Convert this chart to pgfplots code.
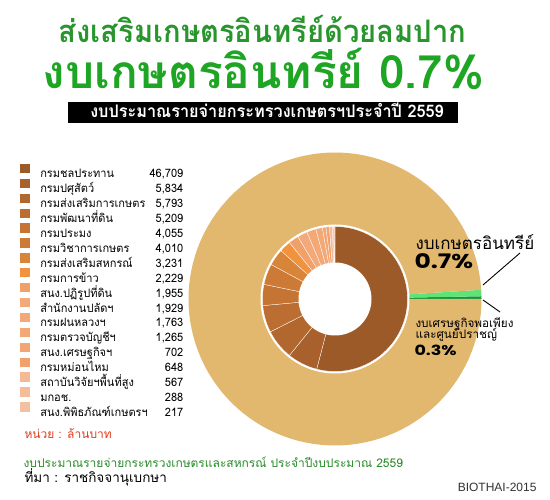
\documentclass[border=0pt]{standalone}
\usepackage{pgfplots}
\pgfplotsset{compat=1.18}
\usepackage{pgfplotstable}
\usepackage{fontspec}
\setmainfont[Script=Thai]{Loma}
\newfontfamily\thaicond[Script=Thai, FakeStretch=0.94]{Loma}
\newfontfamily\thaileg[Script=Thai, FakeStretch=0.95]{Loma}
\newfontfamily\latinf{Liberation Sans}
\newfontfamily\popw[FakeStretch=1.25]{Poppins}
\definecolor{tgreen1}{RGB}{40,150,45}
\definecolor{tgreen2}{RGB}{30,165,35}
\definecolor{botgreen}{RGB}{40,140,40}
\definecolor{unitred}{RGB}{225,62,30}
\definecolor{c0}{RGB}{155,90,40}
\definecolor{c1}{RGB}{168,97,44}
\definecolor{c2}{RGB}{178,103,46}
\definecolor{c3}{RGB}{188,110,50}
\definecolor{c4}{RGB}{197,116,52}
\definecolor{c5}{RGB}{205,122,54}
\definecolor{c6}{RGB}{216,133,58}
\definecolor{c7}{RGB}{240,146,62}
\definecolor{c8}{RGB}{242,160,105}
\definecolor{c9}{RGB}{243,170,122}
\definecolor{c10}{RGB}{243,168,118}
\definecolor{c11}{RGB}{243,168,118}
\definecolor{c12}{RGB}{243,166,115}
\definecolor{c13}{RGB}{242,160,108}
\definecolor{c14}{RGB}{245,185,150}
\definecolor{c15}{RGB}{245,188,155}
\definecolor{c16}{RGB}{245,192,160}
\definecolor{o0}{RGB}{22,150,58}
\definecolor{o1}{RGB}{92,228,120}
\definecolor{o2}{RGB}{226,183,110}

% inner ring: budget by department (million baht)
\pgfplotstableread[col sep=comma]{
name,value
กรมชลประทาน,46709
กรมปศุสัตว์,5834
กรมส่งเสริมการเกษตร,5793
กรมพัฒนาที่ดิน,5209
กรมประมง,4055
กรมวิชาการเกษตร,4010
กรมส่งเสริมสหกรณ์,3231
กรมการข้าว,2229
สนง.ปฏิรูปที่ดิน,1955
สำนักงานปลัดฯ,1929
กรมฝนหลวงฯ,1763
กรมตรวจบัญชีฯ,1265
สนง.เศรษฐกิจฯ,702
กรมหม่อนไหม,648
สถาบันวิจัยฯพื้นที่สูง,567
มกอช.,288
สนง.พิพิธภัณฑ์เกษตรฯ,217
}\budget
% outer ring: share of total (percent), counter-clockwise from 0 degrees
\pgfplotstableread[col sep=comma]{
part,pct
sufficiency,0.3
organic,0.7
other,99.0
}\outerring

\pgfplotstablegetrowsof{\budget}
\pgfmathtruncatemacro\nlast{\pgfplotsretval-1}
\gdef\total{0}
\foreach \i in {0,...,\nlast}{%
  \pgfplotstablegetelem{\i}{value}\of\budget
  \xdef\total{\fpeval{\total+\pgfplotsretval}}%
}
\gdef\cum{0}
\foreach \i in {0,...,\nlast}{%
  \pgfplotstablegetelem{\i}{value}\of\budget
  \expandafter\xdef\csname vl\i\endcsname{\pgfplotsretval}%
  \expandafter\xdef\csname hi\i\endcsname{\fpeval{round(90-360*\cum/\total,4)}}%
  \xdef\cum{\fpeval{\cum+\pgfplotsretval}}%
  \expandafter\xdef\csname lo\i\endcsname{\fpeval{round(90-360*\cum/\total,4)}}%
  \pgfplotstablegetelem{\i}{name}\of\budget
  \expandafter\xdef\csname nm\i\endcsname{\pgfplotsretval}%
}
\gdef\ocum{0}
\foreach \i in {0,1,2}{%
  \pgfplotstablegetelem{\i}{pct}\of\outerring
  \expandafter\xdef\csname olo\i\endcsname{\fpeval{round(360*\ocum/100,4)}}%
  \xdef\ocum{\fpeval{\ocum+\pgfplotsretval}}%
  \expandafter\xdef\csname ohi\i\endcsname{\fpeval{round(360*\ocum/100,4)}}%
}
\newcommand\legrow[2]{\smash{\makebox[112pt][l]{#1}\makebox[31pt][r]{#2}}\rule[-4pt]{0pt}{14.8pt}}

\begin{document}
\begin{tikzpicture}[x=1pt,y=1pt]
\path[use as bounding box, fill=white] (0,0) rectangle (550,500);
\begin{axis}[at={(0,0)}, anchor=south west, x=1pt, y=1pt,
  xmin=0, xmax=550, ymin=0, ymax=500, hide axis, clip=false,
  legend style={at={(axis cs:20,332.8)}, anchor=north west, draw=none, fill=none,
    font=\thaileg\fontsize{11.6}{13}\selectfont, row sep=2.6pt, inner sep=0pt, outer sep=0pt,
    nodes={inner sep=0pt, outer sep=0pt},
    /tikz/every odd column/.append style={column sep=10pt}},
  legend cell align=left,
  legend image code/.code={\fill[#1, draw=none, overlay] (0pt,-0.5pt) rectangle (10pt,9.5pt);
    \path (0pt,0pt) -- (10pt,0pt);},
]
% outer ring
\pgfplotsforeachungrouped \i in {0,1,2}{%
  \edef\temp{\noexpand\addplot[forget plot, fill=o\i, draw=none,
    domain=\csname olo\i\endcsname:\csname ohi\i\endcsname, samples=120, variable=\noexpand\t]
    ({335+146.5*cos(\noexpand\t)},{201+146.5*sin(\noexpand\t)}) -- (335,201) -- cycle;}%
  \temp
}
\addplot[forget plot, fill=white, draw=none, domain=0:360, samples=150, variable=\t]
  ({335+74.5*cos(\t)},{201+74.5*sin(\t)}) -- cycle;
% inner ring
\pgfplotsforeachungrouped \i in {0,...,16}{%
  \edef\temp{\noexpand\addplot[fill=c\i, draw=white, line width=0.3pt,
    domain=\csname lo\i\endcsname:\csname hi\i\endcsname, samples=60, variable=\noexpand\t]
    ({335+72.5*cos(\noexpand\t)},{201+72.5*sin(\noexpand\t)}) -- (335,201) -- cycle;
    \noexpand\addlegendentry{\noexpand\legrow{\csname nm\i\endcsname}{\noexpand\pgfmathprintnumber[assume math mode=true]{\csname vl\i\endcsname}}}}%
  \temp
}
\addplot[forget plot, fill=white, draw=none, domain=0:360, samples=100, variable=\t]
  ({335+36.5*cos(\t)},{201+36.5*sin(\t)}) -- cycle;
\end{axis}
% titles
\node[anchor=base, text=tgreen1, font=\thaicond\bfseries\fontsize{31}{35}\selectfont] at (262.5,457) {ส่งเสริมเกษตรอินทรีย์ด้วยลมปาก};
\node[anchor=base, text=tgreen2, font=\bfseries\fontsize{46}{50}\selectfont] at (263.5,411) {งบเกษตรอินทรีย์ 0.7\%};
\fill[black] (68,377) rectangle (458,398);
\node[anchor=base, text=white, font=\thaicond\bfseries\fontsize{17.3}{19}\selectfont] at (267,382) {งบประมาณรายจ่ายกระทรวงเกษตรฯประจำปี 2559};
% callouts
\node[anchor=base west, font=\fontsize{17}{19}\selectfont] at (412,250) {งบเกษตรอินทรีย์};
\node[anchor=base west, font=\popw\bfseries\fontsize{20}{22}\selectfont] at (411,231) {0.7\%};
\node[anchor=base west, font=\fontsize{11.7}{13}\selectfont] at (412,172) {งบเศรษฐกิจพอเพียง};
\node[anchor=base west, font=\fontsize{11.7}{13}\selectfont] at (412,161) {และศูนย์ปราชญ์};
\node[anchor=base west, font=\popw\bfseries\fontsize{14}{16}\selectfont] at (411,144) {0.3\%};
\draw[black, line width=0.9pt] (520,247) -- (483,215);
\draw[black, line width=0.9pt] (483,200) -- (500,188);
% notes
\node[anchor=base west, text=unitred, font=\fontsize{12}{14}\selectfont] at (21,61) {หน่วย : ล้านบาท};
\node[anchor=base west, text=botgreen, font=\fontsize{12}{14}\selectfont] at (20,32) {งบประมาณรายจ่ายกระทรวงเกษตรและสหกรณ์ ประจำปีงบประมาณ 2559};
\node[anchor=base west, font=\fontsize{13.5}{15}\selectfont] at (21,17) {ที่มา : ราชกิจจานุเบกษา};
\node[anchor=base east, text=black!80, font=\latinf\fontsize{12}{14}\selectfont] at (540,8) {BIOTHAI-2015};
\end{tikzpicture}
\end{document}
